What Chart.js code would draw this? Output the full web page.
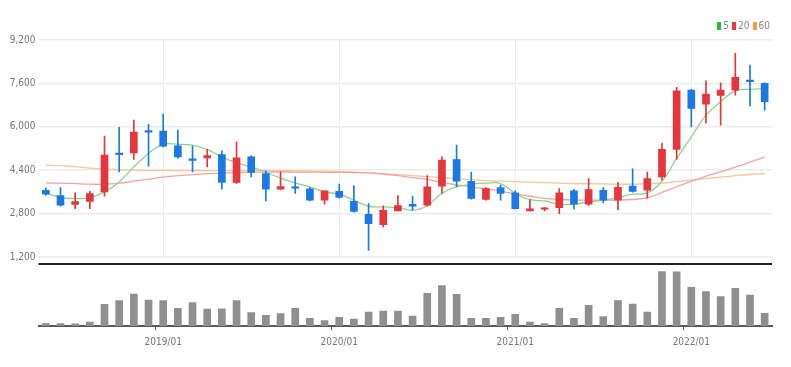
<!DOCTYPE html>
<html>
<head>
<meta charset="utf-8">
<script src="https://cdn.jsdelivr.net/npm/chart.js@4.4.0/dist/chart.umd.min.js"></script>
<style>
body { margin: 0; background: #fff; }
#wrap { position: relative; width: 791px; height: 367px; }
#legend { position: absolute; top: 20px; right: 21px; display: flex; align-items: center;
  font: 10px 'Liberation Sans Narrow', 'DejaVu Sans Condensed', sans-serif; color: #888; }
#legend i { display: inline-block; width: 4px; height: 8px; margin: 0 2px 0 3px; }
</style>
</head>
<body>
<div id="wrap">
  <canvas id="chart" width="791" height="367"></canvas>
  <div id="legend"><i style="background:#2db82d"></i>5<i style="background:#e8383d"></i>20<i style="background:#f5a030"></i>60</div>
</div>
<script>
// 월봉 2018/05 ~ 2022/06
const months = [
  '2018/05','2018/06','2018/07','2018/08','2018/09','2018/10','2018/11','2018/12',
  '2019/01','2019/02','2019/03','2019/04','2019/05','2019/06','2019/07','2019/08','2019/09','2019/10','2019/11','2019/12',
  '2020/01','2020/02','2020/03','2020/04','2020/05','2020/06','2020/07','2020/08','2020/09','2020/10','2020/11','2020/12',
  '2021/01','2021/02','2021/03','2021/04','2021/05','2021/06','2021/07','2021/08','2021/09','2021/10','2021/11','2021/12',
  '2022/01','2022/02','2022/03','2022/04','2022/05','2022/06'
];

const opens  = [3662,3466,3134,3245,3599,5010,5039,5851,5840,5298,4818,4854,4980,3946,4891,4279,3699,3784,3710,3293,
                3625,3256,2776,2396,2898,3145,3108,3810,4795,3994,3319,3762,3562,2898,2960,3023,3636,3145,3662,3293,
                3810,3662,4153,5165,7354,6837,7158,7354,7723,7601];
const highs  = [3747,3762,3562,3625,5656,5977,6246,6099,6468,5877,5286,5165,5113,5445,4928,4375,4338,4153,3762,3636,
                3884,3836,3171,3082,3466,3440,4205,4891,5323,4327,3762,3847,3636,3319,3023,3725,3699,4094,3762,3957,
                4448,4327,5386,7454,7380,7697,7624,8709,8277,7624];
const lows   = [3477,3071,2986,2986,3440,4338,4795,4548,5261,4832,4338,4522,3699,3909,4153,3267,3690,3540,3267,3145,
                3367,2850,1447,2307,2898,2924,3071,3540,3784,3330,3293,3293,2972,2898,2898,2802,2972,3097,3193,2949,
                3588,3367,4031,4795,5999,6147,6062,7169,6763,6616];
const closes = [3514,3108,3245,3540,4954,4973,5803,5803,5286,4891,4758,4943,3946,4854,4315,3699,3799,3736,3293,3636,
                3392,2876,2433,2924,3097,3071,3784,4770,3994,3356,3725,3540,2986,2972,3010,3562,3145,3688,3293,3773,
                3614,4094,5165,7328,6678,7206,7354,7823,7660,6922];

const ma5  = [3551,3392,3356,3392,3599,3968,4522,5017,5360,5355,5323,5165,4891,4670,4522,4327,4105,3931,3784,3599,
              3514,3293,3071,3045,3023,2924,3090,3551,3791,3884,3920,3909,3540,3311,3267,3145,3145,3230,3293,3392,
              3514,3562,3994,4832,5630,6431,6922,7328,7380,7402];
const ma20 = [3931,3920,3902,3883,3883,3920,3994,4068,4142,4197,4234,4271,4289,4308,4327,4330,4335,4332,4328,4325,
              4320,4312,4300,4253,4200,4130,4060,3950,3860,3780,3710,3630,3530,3440,3360,3320,3300,3295,3295,3300,
              3320,3380,3580,3790,3990,4179,4345,4511,4696,4880];
const ma60 = [4585,4567,4530,4474,4437,4419,4400,4392,4390,4388,4387,4386,4385,4384,4383,4382,4380,4378,4374,4363,
              4345,4326,4308,4271,4234,4197,4160,4124,4087,4050,4013,3995,3976,3958,3939,3920,3902,3902,3894,3883,
              3883,3902,3920,3976,4031,4087,4142,4197,4242,4278];

const volumes = [46000,48000,44000,80000,434000,506000,640000,520000,506000,354000,466000,340000,342000,506000,266000,
                 214000,246000,354000,154000,106000,174000,140000,280000,300000,298000,200000,654000,806000,634000,154000,
                 152000,174000,234000,80000,46000,354000,154000,414000,186000,506000,440000,280000,1086000,1084000,774000,
                 686000,586000,754000,620000,254000];

const priceTicks = { min: 1200, max: 9200, step: 1600 };

const UP = '#e5353d';
const DOWN = '#1b79e6';
const candleColors = closes.map((c, i) => c >= opens[i] ? UP : DOWN);
const tickFont = { family: "'Liberation Sans Narrow', 'DejaVu Sans Condensed', sans-serif", size: 10 };
const isYearStart = i => months[i] && months[i].endsWith('/01');

// 연초 세로 격자선 + 가격/거래량 구분선
const deco = {
  id: 'deco',
  beforeDatasetsDraw(chart) {
    const { ctx, chartArea, scales: { x, y, yv } } = chart;
    ctx.save();
    ctx.strokeStyle = '#ededed';
    ctx.lineWidth = 1;
    months.forEach((m, i) => {
      if (!isYearStart(i)) return;
      const px = Math.round(x.getPixelForValue(i)) + 0.5;
      ctx.beginPath();
      ctx.moveTo(px, y.top);
      ctx.lineTo(px, y.bottom);
      ctx.stroke();
    });
    ctx.strokeStyle = '#222';
    ctx.lineWidth = 2;
    ctx.beginPath();
    ctx.moveTo(chartArea.left, yv.top + 7);
    ctx.lineTo(chartArea.right, yv.top + 7);
    ctx.stroke();
    ctx.restore();
  }
};

const line = (data, color, order) => ({
  type: 'line', data, borderColor: color, borderWidth: 1.3, pointRadius: 0,
  tension: 0.4, yAxisID: 'y', order
});

new Chart(document.getElementById('chart'), {
  type: 'bar',
  data: {
    labels: months,
    datasets: [
      line(ma60, '#f7c596', 5),
      line(ma20, '#f4a3a3', 4),
      line(ma5, '#8ad68c', 3),
      { data: lows.map((l, i) => [l, highs[i]]), backgroundColor: candleColors,
        barThickness: 1, grouped: false, yAxisID: 'y', order: 2 },
      { data: opens.map((o, i) => [o, closes[i]]), backgroundColor: candleColors,
        barThickness: 7, grouped: false, yAxisID: 'y', order: 1, minBarLength: 1.5 },
      { data: volumes, backgroundColor: '#8f8f8f', barThickness: 7, grouped: false,
        yAxisID: 'yv', order: 6 }
    ]
  },
  options: {
    responsive: false,
    animation: false,
    layout: { padding: { top: 40, right: 19, left: 0, bottom: 0 } },
    plugins: { legend: { display: false }, tooltip: { enabled: false } },
    scales: {
      x: {
        grid: { drawOnChartArea: false, tickLength: 4,
          color: ctx => isYearStart(ctx.index) ? '#555' : 'rgba(0,0,0,0)' },
        border: { color: '#5a5a5a', width: 2 },
        ticks: { autoSkip: false, maxRotation: 0, padding: 6, color: '#777', font: tickFont,
          callback: (v, i) => isYearStart(i) ? months[i] : '' },
        afterFit: s => { s.height = 41; }
      },
      yv: {
        position: 'left', stack: 'main', stackWeight: 69,
        min: 0, max: 1380000,
        ticks: { display: false }, grid: { display: false }, border: { display: false },
        afterFit: s => { s.width = 38.5; }
      },
      y: {
        position: 'left', stack: 'main', stackWeight: 217,
        min: priceTicks.min, max: priceTicks.max,
        ticks: { stepSize: priceTicks.step, color: '#777', padding: 3, font: tickFont,
          callback: v => v.toLocaleString('en-US') },
        grid: { color: '#ececec', lineWidth: 1.5, drawTicks: false },
        border: { display: false },
        afterFit: s => { s.width = 38.5; }
      }
    }
  },
  plugins: [deco]
});
</script>
</body>
</html>
